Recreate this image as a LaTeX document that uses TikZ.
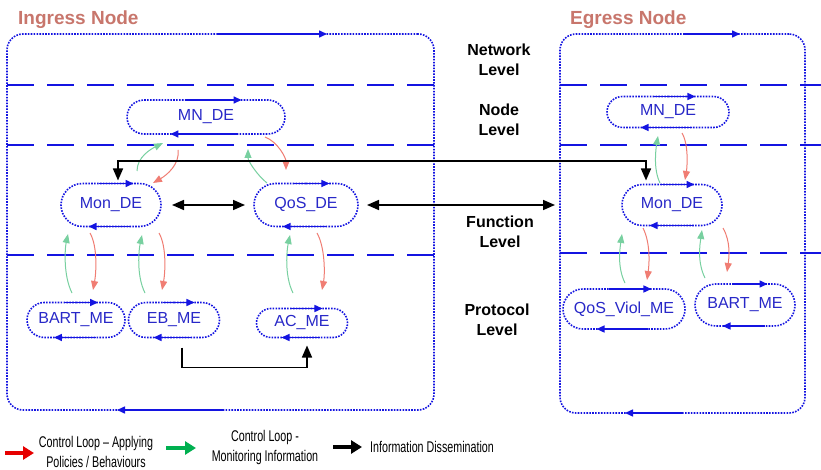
\documentclass[tikz,border=0pt]{standalone}
\usepackage{fontspec}
\usepackage{graphicx}
\setmainfont{Liberation Sans}
\usetikzlibrary{shapes.misc,arrows.meta,calc}

\definecolor{lineblue}{RGB}{20,20,225}
\definecolor{textblue}{RGB}{40,40,200}
\definecolor{titlecol}{RGB}{200,118,108}
\definecolor{loopgreen}{RGB}{120,208,160}
\definecolor{loopred}{RGB}{240,125,115}
\definecolor{leggreen}{RGB}{0,176,80}
\definecolor{legred}{RGB}{230,0,0}

\tikzset{
 pill/.style={rounded rectangle, draw=lineblue, line width=1.6pt, dash pattern=on 1.6pt off 1.3pt,
   text=textblue, font=\fontsize{16}{18}\selectfont, inner sep=0pt, outer sep=0pt},
 framebox/.style={draw=lineblue, line width=1.6pt, dash pattern=on 1.6pt off 1.3pt,
   rounded corners=16pt, inner sep=0pt, outer sep=0pt},
 levelline/.style={draw=lineblue, line width=1.8pt, dash pattern=on 27pt off 13pt},
 flowarrow/.style={draw=lineblue, line width=1.5pt, -{Triangle[length=8pt,width=7pt]}},
 greenloop/.style={draw=loopgreen, line width=1pt, -{Triangle[length=9pt,width=7pt]}},
 redloop/.style={draw=loopred, line width=1pt, -{Triangle[length=9pt,width=7pt]}},
 info/.style={draw=black, line width=1.6pt},
 infoboth/.style={info, {Triangle[length=12pt,width=10pt]}-{Triangle[length=12pt,width=10pt]}},
 infoend/.style={info, -{Triangle[length=12pt,width=10pt]}},
 levellabel/.style={font=\fontsize{16}{20}\selectfont\bfseries, align=center},
 nodetitle/.style={font=\fontsize{19}{22}\selectfont\bfseries, text=titlecol, anchor=west, inner sep=0pt},
 legtext/.style={font=\fontsize{15.5}{19.5}\selectfont, align=center},
 legarrow/.style={line width=3.5pt, -{Triangle[length=11pt,width=13pt]}},
}

\newcommand{\pillflow}[2]{%
  \draw[flowarrow] ($(#1.north)+({-0.25*#2},0)$) -- ($(#1.north)+({0.45*#2},0)$);
  \draw[flowarrow] ($(#1.south)+({0.4*#2},0)$) -- ($(#1.south)+({-0.45*#2},0)$);
}

\begin{document}
\begin{tikzpicture}[x=1pt,y=-1pt]
\fill[white] (0,0) rectangle (821,470);
\useasboundingbox (0,0) rectangle (821,470);

% titles
\node[nodetitle] (tin) at (18,20) {Ingress Node};
\node[nodetitle] (teg) at (570,20) {Egress Node};

% level lines
\draw[levelline] (7,85) -- (434,85);
\draw[levelline] (7,145) -- (434,145);
\draw[levelline] (7,255) -- (434,255);
\draw[levelline] (560,85) -- (821,85);
\draw[levelline] (560,145) -- (821,145);
\draw[levelline] (560,253) -- (821,253);

% frames
\node[framebox, minimum width=427pt, minimum height=376pt] (ingress) at (220.5,222) {};
\node[framebox, minimum width=245pt, minimum height=379pt] (egress) at (682.5,223.5) {};
\draw[flowarrow] ($(ingress.north)+(-3.5,0)$) -- ($(ingress.north)+(106.5,0)$);
\draw[flowarrow] ($(ingress.south)+(2.5,0)$) -- ($(ingress.south)+(-103.5,0)$);
\draw[flowarrow] ($(egress.north)+(0.5,0)$) -- ($(egress.north)+(57.5,0)$);
\draw[flowarrow] ($(egress.south)+(0.5,0)$) -- ($(egress.south)+(-57.5,0)$);

% level labels
\node[levellabel] (lnet) at (499,60) {Network\\Level};
\node[levellabel] (lnode) at (499,120) {Node\\Level};
\node[levellabel] (lfun) at (500,232) {Function\\Level};
\node[levellabel] (lpro) at (497,320) {Protocol\\Level};

% ingress pills
\node[pill, minimum width=158pt, minimum height=34pt] (mnI) at (206,117) {MN\_DE};
\node[pill, minimum width=100pt, minimum height=43pt] (monI) at (111,205) {Mon\_DE};
\node[pill, minimum width=104pt, minimum height=43pt] (qosI) at (306,205) {QoS\_DE};
\node[pill, minimum width=98pt, minimum height=35pt] (bartI) at (76,320) {BART\_ME};
\node[pill, minimum width=91pt, minimum height=35pt] (ebI) at (174,320) {EB\_ME};
\node[pill, minimum width=91pt, minimum height=29pt] (acI) at (302,323) {AC\_ME};
% egress pills
\node[pill, minimum width=122pt, minimum height=31pt] (mnE) at (668,112) {MN\_DE};
\node[pill, minimum width=100pt, minimum height=41pt] (monE) at (672,205) {Mon\_DE};
\node[pill, minimum width=122pt, minimum height=40pt] (qvE) at (624,309) {QoS\_Viol\_ME};
\node[pill, minimum width=100pt, minimum height=42pt] (bartE) at (745,305) {BART\_ME};

\pillflow{mnI}{79}
\pillflow{monI}{50}
\pillflow{qosI}{52}
\pillflow{bartI}{49}
\pillflow{ebI}{45.5}
\pillflow{acI}{45.5}
\pillflow{mnE}{61}
\pillflow{monE}{50}
\pillflow{qvE}{61}
\pillflow{bartE}{50}

% control loops ingress
\draw[greenloop] ($(monI.north)+(26,-12.5)$) .. controls +(0,-14) and +(-12,6) .. ($(mnI.south)+(-43,9)$);
\draw[redloop] ($(mnI.south)+(-28,16)$) .. controls +(2,14) and +(14,-8) .. ($(monI.north)+(42,-0.5)$);
\draw[greenloop] ($(qosI.north)+(-39,-0.5)$) .. controls +(-10,-8) and +(0,12) .. ($(mnI.south)+(42,15)$);
\draw[redloop] ($(mnI.south)+(59,3)$) .. controls +(13,5) and +(0,-12) .. ($(qosI.north)+(-20,-13.5)$);
\draw[greenloop] ($(bartI.north)+(-4,-9.5)$) .. controls +(-9,-18) and +(-3,14) .. ($(monI.south)+(-43,7.5)$);
\draw[redloop] ($(monI.south)+(-21,6.5)$) .. controls +(8,14) and +(3,-16) .. ($(bartI.north)+(17,-12.5)$);
\draw[greenloop] ($(ebI.north)+(-29,-9.5)$) .. controls +(-9,-18) and +(-3,14) .. ($(monI.south)+(31,8.5)$);
\draw[redloop] ($(monI.south)+(48,6.5)$) .. controls +(8,14) and +(3,-16) .. ($(ebI.north)+(-12,-12.5)$);
\draw[greenloop] ($(acI.north)+(-9,-15.5)$) .. controls +(-9,-18) and +(-3,14) .. ($(qosI.south)+(-16,8.5)$);
\draw[redloop] ($(qosI.south)+(11,6.5)$) .. controls +(8,14) and +(3,-16) .. ($(acI.north)+(20,-18.5)$);
% control loops egress
\draw[greenloop] ($(monE.north)+(-12,-1.5)$) .. controls +(-7,-14) and +(-2,12) .. ($(mnE.south)+(-10,8.5)$);
\draw[redloop] ($(mnE.south)+(14,5.5)$) .. controls +(7,12) and +(2,-12) .. ($(monE.north)+(13,-4.5)$);
\draw[greenloop] ($(qvE.north)+(1,-6)$) .. controls +(-8,-16) and +(-2,14) .. ($(monE.south)+(-50,8.5)$);
\draw[redloop] ($(monE.south)+(-29,2.5)$) .. controls +(8,16) and +(2,-14) .. ($(qvE.north)+(23,-9)$);
\draw[greenloop] ($(bartE.north)+(-40,-6)$) .. controls +(-8,-16) and +(-2,14) .. ($(monE.south)+(30,4.5)$);
\draw[redloop] ($(monE.south)+(51,2.5)$) .. controls +(8,14) and +(2,-14) .. ($(bartE.north)+(-18,-12)$);

% information dissemination
\draw[infoboth, shorten <=11pt, shorten >=9pt] (monI) -- (qosI);
\draw[infoboth, shorten <=9pt, shorten >=67pt] (qosI) -- (monE);
\draw[infoboth] ($(monI.north)+(7,-3)$) -- ++(0,-19.5) -| ($(monE.north)+(-26,-4)$);
\draw[infoend] ($(ebI.south)+(8,10)$) -- ++(0,20) -| ($(acI.south)+(5,8)$);

% legend
\draw[legarrow, draw=legred, fill=legred] (5,453) -- (34,453);
\node[legtext] (leg1) at (96,452) {\scalebox{0.69}[1]{Control Loop – Applying}\\\scalebox{0.69}[1]{Policies / Behaviours}};
\draw[legarrow, draw=leggreen, fill=leggreen] (166,448) -- (196,448);
\node[legtext] (leg2) at (265,447.5) {\scalebox{0.69}[1]{Control Loop -}\\\scalebox{0.69}[1]{Monitoring Information}};
\draw[legarrow, draw=black, fill=black] (333,447) -- (362,447);
\node[legtext] (leg3) at (432,447) {\scalebox{0.69}[1]{Information Dissemination}};
\end{tikzpicture}
\end{document}
